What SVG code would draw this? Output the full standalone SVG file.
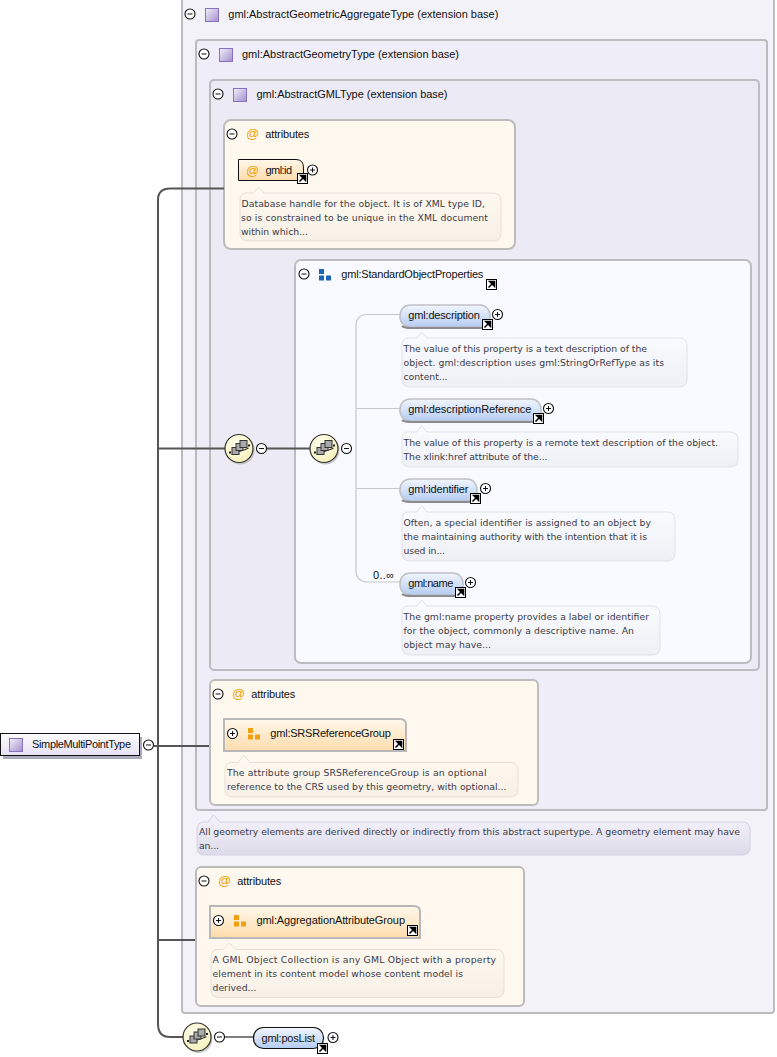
<svg xmlns="http://www.w3.org/2000/svg" width="777" height="1057" viewBox="0 0 777 1057">
<style>
text{font-family:"Liberation Sans",Arial,sans-serif;font-size:11px;fill:#111}
.ann{font-family:"DejaVu Sans",Verdana,sans-serif;font-size:9.3px;fill:#3a3a48}
.box{stroke:#bcbcc0;stroke-width:2}
.t1{fill:#f3f2f9}.t2{fill:#efedf7}.t3{fill:#eceaf4}
.attr{fill:#fff8ee;stroke:#bcbcbc;stroke-width:2}
.sep{stroke:url(#sepG);stroke-width:3;fill:none}
.wire{stroke:#555;stroke-width:2;fill:none}
.thin{stroke:#c8c8c8;stroke-width:1.2;fill:none}
.note{stroke:#e6e0d4;stroke-width:1;fill:url(#noteA)}
.noteb{stroke:#e0e1e8;stroke-width:1;fill:url(#noteB)}
.notet{stroke:#d4d2e0;stroke-width:1;fill:url(#noteT)}
.el{fill:url(#elG);stroke:#c0c0c6;stroke-width:1.5}
.shade{stroke:#8c8c90;stroke-width:2;fill:none}
.grp{fill:url(#idG);stroke:#b8b8b8;stroke-width:2}
.at{font-size:13px;fill:#f0a000}
</style>
<defs>
<linearGradient id="noteA" x1="0" y1="0" x2="0" y2="1"><stop offset="0" stop-color="#fffaf1"/><stop offset="1" stop-color="#f6f0e6"/></linearGradient>
<linearGradient id="noteB" x1="0" y1="0" x2="0" y2="1"><stop offset="0" stop-color="#fbfcff"/><stop offset="1" stop-color="#eff0f5"/></linearGradient>
<linearGradient id="noteT" x1="0" y1="0" x2="0" y2="1"><stop offset="0" stop-color="#f5f3fb"/><stop offset="1" stop-color="#dedbea"/></linearGradient>
<linearGradient id="sepG" x1="0" y1="0" x2="1" y2="0"><stop offset="0" stop-color="#d8d8de"/><stop offset="1" stop-color="#d8d8de" stop-opacity="0"/></linearGradient>
<linearGradient id="elG" x1="0" y1="0" x2="0" y2="1"><stop offset="0" stop-color="#f2f6fd"/><stop offset="1" stop-color="#b4ccf2"/></linearGradient>
<linearGradient id="idG" x1="0" y1="0" x2="0" y2="1"><stop offset="0" stop-color="#fff8ec"/><stop offset="1" stop-color="#fddcac"/></linearGradient>
<linearGradient id="tyG" x1="0" y1="0" x2="1" y2="1"><stop offset="0" stop-color="#f4f0fb"/><stop offset="1" stop-color="#a090cc"/></linearGradient>
<linearGradient id="rootG" x1="0" y1="0" x2="0" y2="1"><stop offset="0" stop-color="#fdfcff"/><stop offset="1" stop-color="#e6e1f2"/></linearGradient>
<radialGradient id="seqG" cx="0.4" cy="0.35" r="0.7"><stop offset="0" stop-color="#fffff0"/><stop offset="1" stop-color="#f6f0b8"/></radialGradient>
<g id="minus"><circle r="5" fill="#fff" stroke="#111" stroke-width="1.1"/><path d="M-2.5 0H2.5" stroke="#111"/></g>
<g id="plus"><circle r="5" fill="#fff" stroke="#111" stroke-width="1.1"/><path d="M-2.5 0H2.5M0-2.5V2.5" stroke="#111"/></g>
<g id="ty"><rect x="0.5" y="0.5" width="13" height="13" fill="url(#tyG)" stroke="#8a70c0"/></g>
<g id="link"><rect x="0.5" y="0.5" width="10" height="10" fill="#fff" stroke="#000"/><path d="M2.5 8.5L6.5 4.500M3.800 2.500H8.500V7.200Z" stroke="#000" stroke-width="1.600" fill="#000"/></g>
<g id="seq"><circle cx="1.500" cy="2" r="14" fill="#999" opacity="0.5"/><circle r="14" fill="url(#seqG)" stroke="#333" stroke-width="1.200"/><path d="M-9 3H9" stroke="#222" transform="rotate(-20)"/><rect x="-7" y="-1" width="7" height="7" fill="#aaa" stroke="#333"/><rect x="-3" y="-5" width="7" height="7" fill="#aaa" stroke="#333"/><rect x="1" y="-8" width="7" height="7" fill="#aaa" stroke="#333"/><rect x="-10" y="3" width="2" height="2" fill="#222"/><rect x="9" y="-4" width="2" height="2" fill="#222"/></g>
<g id="grpO"><rect width="5" height="5" fill="#f0a010"/><rect y="6.500" width="5" height="5" fill="#f0a010"/><rect x="7" y="6.500" width="5" height="5" fill="#f0a010"/></g>
<g id="grpB"><rect width="5" height="5" fill="#1c64b4"/><rect y="6.500" width="5" height="5" fill="#1c64b4"/><rect x="7" y="6.500" width="5" height="5" fill="#1c64b4"/></g>
</defs>
<rect width="777" height="1057" fill="#fff"/>

<g id="type-aggregate">
<rect class="box t1" x="182" y="-8" width="592" height="1021" rx="3"/>
<use href="#minus" x="190" y="14"/><use href="#ty" x="205" y="8"/>
<text x="228.300" y="18" textLength="270">gml:AbstractGeometricAggregateType (extension base)</text>
<path class="sep" d="M184 29H640"/>
</g>
<g id="type-geometry">
<rect class="box t2" x="196" y="40" width="571" height="770" rx="3"/>
<use href="#minus" x="204" y="54"/><use href="#ty" x="219" y="48"/>
<text x="242" y="58" textLength="217">gml:AbstractGeometryType (extension base)</text>
<path class="sep" d="M198 69H630"/>
</g>
<g id="type-gml">
<rect class="box t3" x="210" y="80" width="549" height="590" rx="4"/>
<use href="#minus" x="218" y="94"/><use href="#ty" x="233" y="88"/>
<text x="256.500" y="98" textLength="191">gml:AbstractGMLType (extension base)</text>
<path class="sep" d="M212 109H630"/>
</g>

<g id="attributes-1">
<rect class="attr" x="224" y="120" width="291" height="129" rx="7"/>
<use href="#minus" x="232" y="134"/><text class="at" x="246" y="138">@</text>
<text x="265.300" y="138" textLength="44">attributes</text><path class="sep" d="M226 148H450"/>
</g>
<g id="gml-id">
<path d="M238.500 159.500H296Q303.500 159.500 303.500 168V180.500H238.500Z" fill="url(#idG)" stroke="#111"/>
<text class="at" x="246" y="175">@</text><text x="265.500" y="174" textLength="26.500">gml:id</text>
<use href="#link" x="297" y="173"/><use href="#plus" x="312.500" y="170"/>
<path class="note" d="M246 193H253.500L258.500 187L264 193H493Q501 193 501 201V233Q501 241 493 241H248Q240 241 240 233V201Q240 193 246 193Z"/>
<text class="ann" x="241.500" y="207" textLength="243.500">Database handle for the object. It is of XML type ID,</text>
<text class="ann" x="241" y="221" textLength="247">so is constrained to be unique in the XML document</text>
<text class="ann" x="241" y="235" textLength="67">within which...</text>
</g>

<g id="std-props">
<rect x="295" y="260" width="456" height="403" rx="6" fill="#f9faff" stroke="#bcbcc0" stroke-width="2"/>
<use href="#minus" x="304" y="274"/><use href="#grpB" x="319" y="269"/>
<text x="341.300" y="278" textLength="142">gml:StandardObjectProperties</text>
<use href="#link" x="486" y="279"/>
<path class="sep" d="M297 292H640"/>
</g>

<g id="connectors">
<path class="wire" d="M224 188.500H170Q158 188.500 158 200V1024Q158 1037 170 1037H183"/>
<path class="wire" d="M158 448.500H225M267 448.500H310"/>
<path class="wire" d="M154 746H224"/>
<path class="wire" d="M158 940H196"/>
<path class="wire" d="M224 1037H253" style="stroke-width:1.500"/>
<path class="thin" d="M400 314.500H368Q356 314.500 356 326V570Q356 582 368 582H400M356 408.500H400M356 488.500H400"/>
</g>

<g id="seq-1"><use href="#seq" x="239" y="448.500"/><use href="#minus" x="261.500" y="448.500"/></g>
<g id="seq-2"><use href="#seq" x="324" y="448.500"/><use href="#minus" x="346.500" y="448.500"/></g>

<g id="el-description">
<rect class="el" x="400" y="305" width="90" height="22" rx="10"/><path class="shade" d="M402 326Q404 328 412 328H481Q489 328 490 320"/>
<text x="408.300" y="319" textLength="71.500">gml:description</text>
<use href="#link" x="482" y="319"/><use href="#plus" x="497.500" y="314.500"/>
<path class="noteb" d="M408 338H417L421.500 332L427 338H679Q687 338 687 346V379Q687 387 679 387H410Q402 387 402 379V346Q402 338 408 338Z"/>
<text class="ann" x="403.500" y="352" textLength="243.500">The value of this property is a text description of the</text>
<text class="ann" x="403.500" y="366" textLength="260.500">object. gml:description uses gml:StringOrRefType as its</text>
<text class="ann" x="403.500" y="380" textLength="44">content...</text>
</g>
<g id="el-descriptionReference">
<rect class="el" x="400" y="399" width="141" height="22" rx="10"/><path class="shade" d="M402 420Q404 422 412 422H532Q540 422 541 414"/>
<text x="408.300" y="413" textLength="123">gml:descriptionReference</text>
<use href="#link" x="533" y="413"/><use href="#plus" x="548.500" y="408.500"/>
<path class="noteb" d="M408 432H417L421.500 426L427 432H730Q738 432 738 440V459Q738 467 730 467H410Q402 467 402 459V440Q402 432 408 432Z"/>
<text class="ann" x="403.500" y="446" textLength="314.500">The value of this property is a remote text description of the object.</text>
<text class="ann" x="403.500" y="460" textLength="144">The xlink:href attribute of the...</text>
</g>
<g id="el-identifier">
<rect class="el" x="400" y="479" width="77" height="22" rx="10"/><path class="shade" d="M402 500Q404 502 412 502H468Q476 502 477 494"/>
<text x="408.300" y="493" textLength="60">gml:identifier</text>
<use href="#link" x="470" y="493"/><use href="#plus" x="485.500" y="488.500"/>
<path class="noteb" d="M408 512H417L421.500 506L427 512H667Q675 512 675 520V553Q675 561 667 561H410Q402 561 402 553V520Q402 512 408 512Z"/>
<text class="ann" x="403.500" y="526" textLength="247.500">Often, a special identifier is assigned to an object by</text>
<text class="ann" x="403.500" y="540" textLength="243.500">the maintaining authority with the intention that it is</text>
<text class="ann" x="403.500" y="554" textLength="41.500">used in...</text>
</g>
<g id="el-name">
<text x="373" y="579" textLength="21">0..∞</text>
<rect class="el" x="400" y="573" width="63" height="22" rx="10"/><path class="shade" d="M402 594Q404 596 412 596H454Q462 596 463 588"/>
<text x="408.300" y="587" textLength="45">gml:name</text>
<use href="#link" x="455" y="587"/><use href="#plus" x="470.500" y="582.500"/>
<path class="noteb" d="M408 606H417L421.500 600L427 606H652Q660 606 660 614V647Q660 655 652 655H410Q402 655 402 647V614Q402 606 408 606Z"/>
<text class="ann" x="403.500" y="620" textLength="245.500">The gml:name property provides a label or identifier</text>
<text class="ann" x="403.500" y="634" textLength="230.500">for the object, commonly a descriptive name. An</text>
<text class="ann" x="403.500" y="648" textLength="87.500">object may have...</text>
</g>

<g id="attributes-2">
<rect class="attr" x="210" y="680" width="328" height="125" rx="5"/>
<use href="#minus" x="218" y="694"/><text class="at" x="232" y="698">@</text>
<text x="251.300" y="698" textLength="44">attributes</text><path class="sep" d="M212 708H470"/>
</g>
<g id="srs-group">
<path class="grp" d="M224 719H400Q406 719 406 725V751H224Z"/>
<use href="#plus" x="232.500" y="733.500"/><use href="#grpO" x="248" y="728"/>
<text x="270.300" y="737" textLength="120.500">gml:SRSReferenceGroup</text>
<use href="#link" x="393" y="739"/>
<path class="note" d="M231 762.500H238L243.500 755L250 762.500H510Q518 762.500 518 771V789Q518 797 510 797H233Q225 797 225 789V771Q225 762.500 231 762.500Z"/>
<text class="ann" x="227" y="776" textLength="259.500">The attribute group SRSReferenceGroup is an optional</text>
<text class="ann" x="227" y="790" textLength="279.500">reference to the CRS used by this geometry, with optional...</text>
</g>

<g id="note-geometry">
<path class="notet" d="M204 822H208L213.500 815L220 822H742Q750 822 750 830V847Q750 855 742 855H204Q197 855 197 847V830Q197 822 204 822Z"/>
<text class="ann" x="199" y="835" textLength="541">All geometry elements are derived directly or indirectly from this abstract supertype. A geometry element may have</text>
<text class="ann" x="199" y="849" textLength="20">an...</text>
</g>

<g id="attributes-3">
<rect class="attr" x="196" y="867" width="328" height="139" rx="5"/>
<use href="#minus" x="204" y="881"/><text class="at" x="218" y="885">@</text>
<text x="237.300" y="885" textLength="44">attributes</text><path class="sep" d="M198 895H460"/>
</g>
<g id="agg-group">
<path class="grp" d="M210 906H414Q420 906 420 912V938H210Z"/>
<use href="#plus" x="218.500" y="920.500"/><use href="#grpO" x="234" y="915"/>
<text x="256.500" y="924" textLength="148.500">gml:AggregationAttributeGroup</text>
<use href="#link" x="407" y="925"/>
<path class="note" d="M217 949.500H223L229.500 943L236 949.500H496Q504 949.500 504 958V989Q504 997.500 496 997.500H219Q211 997.500 211 989V958Q211 949.500 217 949.500Z"/>
<text class="ann" x="212.500" y="963" textLength="283.500">A GML Object Collection is any GML Object with a property</text>
<text class="ann" x="212.500" y="977" textLength="250.500">element in its content model whose content model is</text>
<text class="ann" x="212.500" y="991" textLength="44">derived...</text>
</g>

<g id="root">
<rect x="3" y="737" width="139" height="22" fill="#aaaabb"/>
<rect x="0.500" y="733.500" width="139" height="22" fill="url(#rootG)" stroke="#111"/>
<use href="#ty" x="9" y="738"/>
<text x="32" y="748" textLength="99">SimpleMultiPointType</text>
<use href="#minus" x="148.500" y="745"/>
</g>

<g id="seq-3"><use href="#seq" x="197" y="1037"/><use href="#minus" x="219.500" y="1037"/></g>
<g id="el-posList">
<rect x="253.500" y="1027.500" width="70" height="21" rx="10" fill="url(#elG)" stroke="#111" stroke-width="1.200"/>
<text x="261.500" y="1042" textLength="53.500">gml:posList</text>
<use href="#link" x="317" y="1043"/><use href="#plus" x="333" y="1037.500"/>
</g>
</svg>
